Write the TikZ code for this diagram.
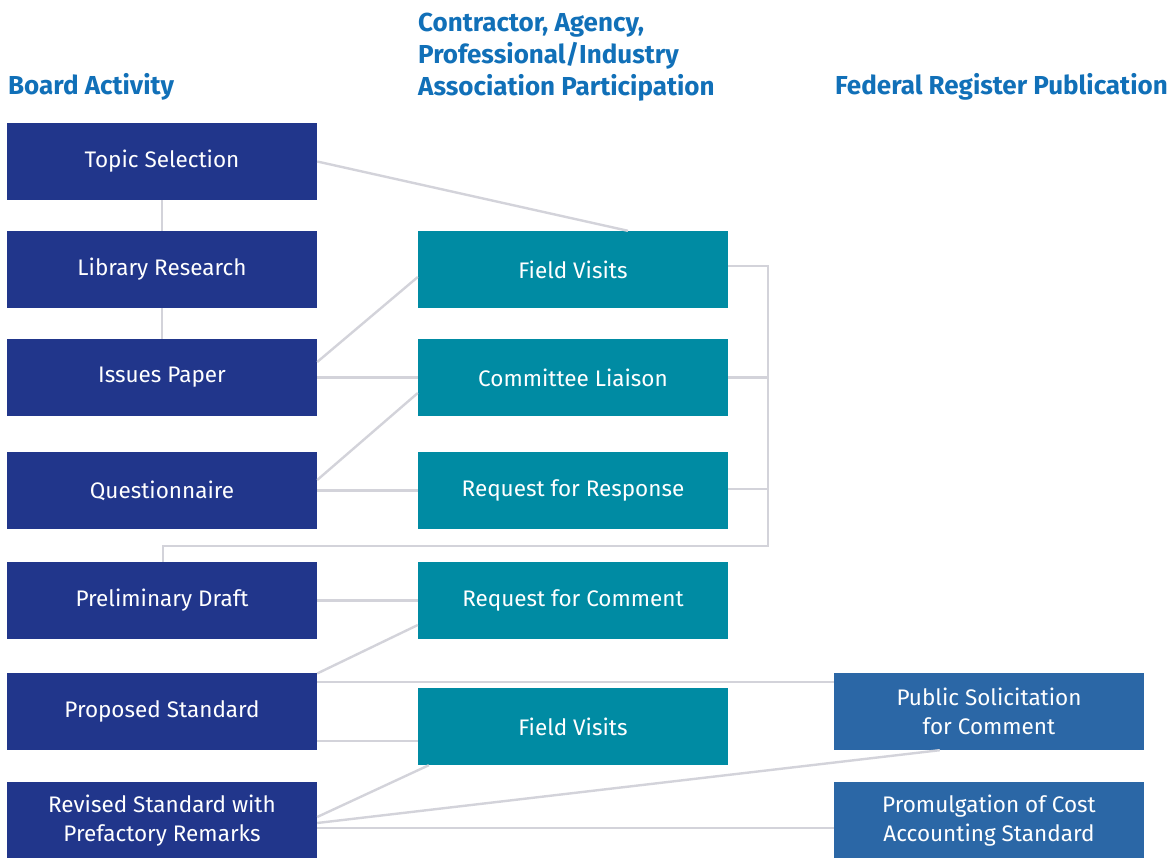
\documentclass[tikz,border=0pt]{standalone}
\usepackage{fontspec}
\setmainfont{Fira Sans}
\usetikzlibrary{calc}
\definecolor{boardblue}{HTML}{21368B}
\definecolor{partteal}{HTML}{008BA3}
\definecolor{fedblue}{HTML}{2B67A6}
\definecolor{headblue}{HTML}{1170B8}
\definecolor{linkgray}{HTML}{D3D3DA}
\begin{document}
\begin{tikzpicture}[x=1pt,y=-1pt,
  box/.style={rectangle, minimum width=310pt, minimum height=77pt, inner sep=0pt,
    text=white, align=center, font=\fontsize{22.5}{29}\selectfont},
  board/.style={box, fill=boardblue},
  part/.style={box, fill=partteal},
  fed/.style={box, fill=fedblue},
  head/.style={inner sep=0pt, text=headblue, align=left,
    font=\fontsize{26}{32}\selectfont\bfseries},
  link/.style={draw=linkgray, line width=2.4pt}]
\useasboundingbox (0,0) rectangle (1173,858);

% column headings
\node[head, anchor=base west] (h1) at (8,95) {Board Activity};
\node[head, anchor=north west] (h2) at (418,13) {Contractor, Agency,\\Professional/Industry\\Association Participation};
\node[head, anchor=base west] (h3) at (835,95) {Federal Register Publication};

% board activity column
\node[board] (ts) at (162,161.5) {Topic Selection};
\node[board] (lr) at (162,269.5) {Library Research};
\node[board] (ip) at (162,377.5) {Issues Paper};
\node[board] (qn) at (162,490.5) {Questionnaire};
\node[board] (pd) at (162,600.5) {Preliminary Draft};
\node[board] (ps) at (162,711.5) {Proposed Standard};
\node[board] (rs) at (162,820.5) {Revised Standard with\\Prefactory Remarks};

% participation column
\node[part] (fv) at (573,269.5) {Field Visits};
\node[part] (cl) at (573,377.5) {Committee Liaison};
\node[part] (rr) at (573,490.5) {Request for Response};
\node[part] (rc) at (573,600.5) {Request for Comment};
\node[part] (fv2) at (573,726.5) {Field Visits};

% federal register column
\node[fed] (pub) at (989,711.5) {Public Solicitation\\for Comment};
\node[fed] (prom) at (989,820.5) {Promulgation of Cost\\Accounting Standard};

% connectors
\coordinate (jt) at (768,266);
\coordinate (jb) at (768,546);
\coordinate (jl) at (163,546);

\draw[link] (ts.east) -- ($(fv.north west)!0.677!(fv.north east)$);
\draw[link] (ts.south) -- (lr.north);
\draw[link] (lr.south) -- (ip.north);
\draw[link] ($(ip.east)+(0,-15.5)$) -- ($(fv.west)+(0,7.5)$);
\draw[link] (ip.east) -- (cl.west);
\draw[link] ($(qn.east)+(0,-10.5)$) -- ($(cl.west)+(0,15.5)$);
\draw[link] (qn.east) -- (rr.west);
\draw[link] ($(fv.east)+(0,-3.5)$) -- (jt) -- (jb) -- (jl) -- (jl |- pd.north);
\draw[link] (cl.east) -- (cl.east -| jt);
\draw[link] ($(rr.east)+(0,-1.5)$) -- ($(rr.east -| jt)+(0,-1.5)$);
\draw[link] (pd.east) -- (rc.west);
\draw[link] ($(ps.east)+(0,-38)$) -- ($(rc.west)+(0,24.5)$);
\draw[link] ($(ps.east)+(0,-29.5)$) -- ($(pub.west)+(0,-29.5)$);
\draw[link] ($(ps.east)+(0,29.5)$) -- ($(fv2.west)+(0,14.5)$);
\draw[link] ($(rs.east)+(0,-3.5)$) -- ($(fv2.south west)+(11,0)$);
\draw[link] ($(rs.east)+(0,2.5)$) -- ($(pub.south west)+(106,0)$);
\draw[link] ($(rs.east)+(0,7.5)$) -- ($(prom.west)+(0,7.5)$);
\end{tikzpicture}
\end{document}
